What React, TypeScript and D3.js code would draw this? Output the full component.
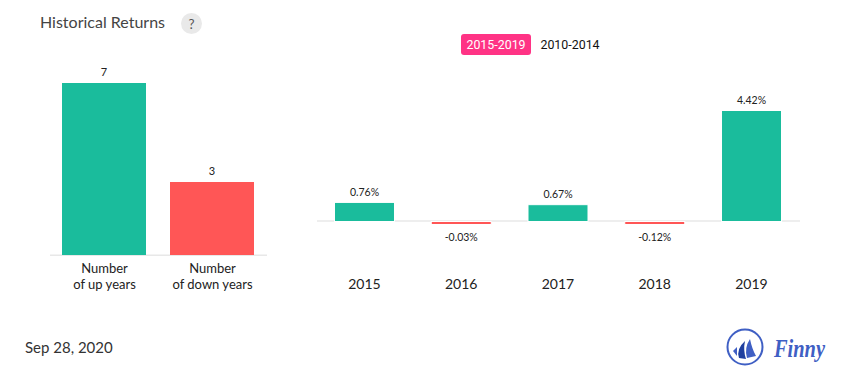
import React from "react";
import * as d3 from "d3";

const countLabels = [["Number", "of up years"], ["Number", "of down years"]];
const countValues = [7, 3];
const years = ["2015", "2016", "2017", "2018", "2019"];
const returns = [0.76, -0.03, 0.67, -0.12, 4.42];
const returnLabels = ["0.76%", "-0.03%", "0.67%", "-0.12%", "4.42%"];
const ranges = ["2015-2019", "2010-2014"];
const dateLabel = "Sep 28, 2020";
const title = "Historical Returns";

const GREEN = "#1abc9c";
const RED = "#ff5656";
const LATO = "Lato, sans-serif";

const xCount = d3.scaleBand<number>().domain([0, 1]).range([50, 266]).paddingInner(0.2222).paddingOuter(0.1111);
const yCount = d3.scaleLinear().domain([0, 7]).range([255, 83]);
const xRet = d3.scaleBand<string>().domain(years).range([317.5, 798.5]).paddingInner(0.38).paddingOuter(0.1757);
const yRet = d3.scaleLinear().domain([0, 4.42]).range([221.5, 110.5]);

export default function App() {
  return (
    <svg width={855} height={382} style={{ position: "absolute", left: 0, top: 0, background: "#fff" }}>
      <text x={40} y={28} fontFamily={LATO} fontSize={16} fill="#444">{title}</text>
      <circle cx={191.5} cy={23.5} r={10.5} fill="#e9e9e9" />
      <text x={191.5} y={28.5} textAnchor="middle" fontFamily={LATO} fontSize={13.5} fill="#555">?</text>

      <rect x={461} y={34} width={70} height={21} rx={3} fill="#ff3385" />
      <text x={496} y={49} textAnchor="middle" fontFamily="Roboto, sans-serif" fontSize={12.4} fill="#fff">{ranges[0]}</text>
      <text x={570} y={49} textAnchor="middle" fontFamily="Roboto, sans-serif" fontSize={12.4} fill="#111">{ranges[1]}</text>

      <line x1={50} x2={267} y1={255.25} y2={255.25} stroke="#e8e8e8" strokeWidth={1.5} />
      {countValues.map((v, i) => {
        const top = Math.round(yCount(v) + 0.4);
        return (
          <g key={i}>
            <rect x={xCount(i)} y={top} width={xCount.bandwidth()} height={255 - top} fill={i === 0 ? GREEN : RED} />
            <text x={xCount(i)! + xCount.bandwidth() / 2} y={top - 7} textAnchor="middle" fontFamily={LATO} fontSize={11} fill="#222">{v}</text>
            {countLabels[i].map((l, j) => (
              <text key={j} x={xCount(i)! + xCount.bandwidth() / 2 + 0.5} y={273 + j * 16} textAnchor="middle" fontFamily={LATO} fontSize={13} fill="#222">{l}</text>
            ))}
          </g>
        );
      })}

      <line x1={317} x2={800} y1={221} y2={221} stroke="#e8e8e8" strokeWidth={1.5} />
      {returns.map((v, i) => {
        const x = xRet(years[i])!;
        const w = xRet.bandwidth();
        const cx = x + w / 2;
        const up = v >= 0;
        const h = up ? yRet(0) - yRet(v) : 3;
        return (
          <g key={i}>
            <rect x={x} y={up ? yRet(v) : yRet(0)} width={w} height={h} fill={up ? GREEN : RED} stroke="#fff" strokeWidth={1} />
            <text x={cx} y={up ? yRet(v) - 6.5 : 241} textAnchor="middle" fontFamily={LATO} fontSize={10.5} fill="#222">{returnLabels[i]}</text>
            <text x={cx} y={289} textAnchor="middle" fontFamily={LATO} fontSize={14} fill="#222">{years[i]}</text>
          </g>
        );
      })}

      <text x={25} y={353} fontFamily={LATO} fontSize={15} fill="#333">{dateLabel}</text>

      <g>
        <circle cx={745} cy={347} r={17.5} fill="none" stroke="#3f5fc4" strokeWidth={2} />
        <path d="M733 351 L737 347 L737 356 Z" fill="#3f5fc4" />
        <path d="M739 358 Q736 349 745 341 Q743 350 746 359 Z" fill="#1f3f9f" />
        <path d="M747 358 Q744 348 750 339 Q752 349 756 356 Z" fill="#3f5fc4" />
        <text x={774} y={357} fontFamily="'Liberation Serif', serif" fontStyle="italic" fontWeight={700} fontSize={26} textLength={51} lengthAdjust="spacingAndGlyphs" fill="#3f5fc4">Finny</text>
      </g>
    </svg>
  );
}
